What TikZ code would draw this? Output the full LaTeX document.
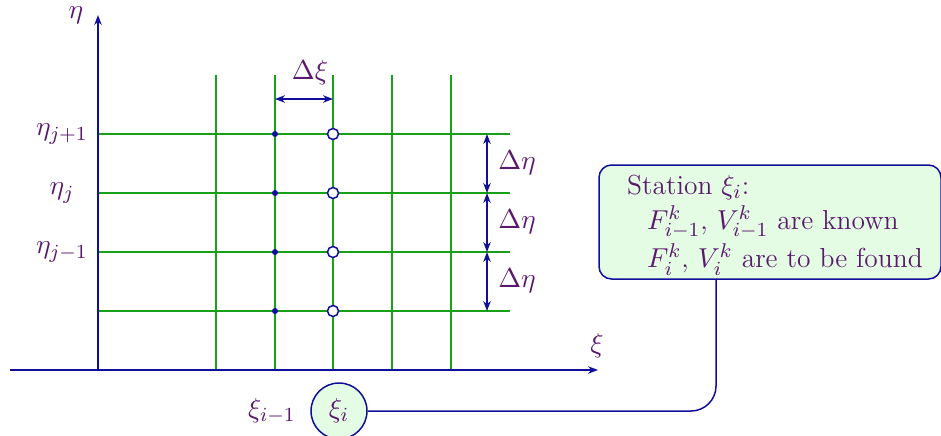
\documentclass[tikz,border=0pt]{standalone}
\usetikzlibrary{arrows.meta}
\definecolor{axblue}{RGB}{15,15,155}
\definecolor{gridgreen}{RGB}{25,160,25}
\definecolor{txt}{RGB}{90,25,110}
\definecolor{boxfill}{RGB}{228,251,228}
\tikzset{
  lbl/.style={text=txt, font=\fontsize{11pt}{13pt}\selectfont, inner sep=0pt},
  axis/.style={draw=axblue, line width=0.6pt, -{Stealth[length=4pt,width=3pt]}},
  gridline/.style={draw=gridgreen, line width=0.6pt},
  dim/.style={draw=axblue, line width=0.6pt, {Stealth[length=4pt,width=3pt]}-{Stealth[length=4pt,width=3pt]}},
  fdot/.style={circle, fill=axblue, minimum size=2.4pt, inner sep=0pt},
  odot/.style={circle, draw=axblue, fill=white, line width=0.6pt, minimum size=4.4pt, inner sep=0pt},
  callout/.style={draw=axblue, fill=boxfill, line width=0.6pt, rounded corners=5pt, text=txt,
     font=\fontsize{11pt}{13.2pt}\selectfont, align=left, minimum width=136.8pt, minimum height=45.6pt, inner sep=0pt},
  station/.style={circle, draw=axblue, fill=boxfill, line width=0.6pt, text=txt,
     font=\fontsize{11pt}{13pt}\selectfont, minimum size=22.4pt, inner sep=0pt}
}
\begin{document}
\begin{tikzpicture}[x=0.4pt,y=-0.4pt]
\useasboundingbox (0,0) rectangle (941,435);
% grid
\foreach \yy/\nm in {134/a,193/b,252/c,311/d}{
  \coordinate (hl\nm) at (98,\yy);
  \coordinate (hr\nm) at (510,\yy);
  \draw[gridline] (hl\nm) -- (hr\nm);
}
\foreach \xx/\nm in {216/a,275/b,333/c,392/d,451/e}{
  \coordinate (vt\nm) at (\xx,75);
  \coordinate (vb\nm) at (\xx,370);
  \draw[gridline] (vt\nm) -- (vb\nm);
}
% axes
\coordinate (o) at (98,370);
\coordinate (ytip) at (98,15);
\coordinate (xs) at (10,370);
\coordinate (xtip) at (598,370);
\draw[axis] (o) -- (ytip);
\draw[axis] (xs) -- (xtip);
\node[lbl] (eta) at (76,15) {$\eta$};
\node[lbl] (xi) at (597,346) {$\xi$};
% dots
\foreach \yy/\nm in {134/a,193/b,252/c,311/d}{
  \node[fdot] (f\nm) at (275,\yy) {};
  \node[odot] (o\nm) at (333,\yy) {};
}
% delta xi
\coordinate (dxl) at (275,99);
\coordinate (dxr) at (333,99);
\draw[dim] (dxl) -- (dxr);
\node[lbl] (dxi) at (310,73) {$\Delta\xi$};
% delta eta
\coordinate (e1) at (487,134);
\coordinate (e2) at (487,193);
\coordinate (e3) at (487,252);
\coordinate (e4) at (487,311);
\draw[dim] (e1) -- (e2);
\draw[dim] (e2) -- (e3);
\draw[dim] (e3) -- (e4);
\node[lbl] (de1) at (517,163) {$\Delta\eta$};
\node[lbl] (de2) at (517,222) {$\Delta\eta$};
\node[lbl] (de3) at (517,281) {$\Delta\eta$};
% eta labels
\node[lbl] (ej1) at (62,134) {$\eta_{j+1}$};
\node[lbl] (ej) at (62,193) {$\eta_j$};
\node[lbl] (ejm) at (62,252) {$\eta_{j-1}$};
% station
\node[lbl] (xim) at (272,411) {$\xi_{i-1}$};
\node[station] (xii) at (339,411) {$\xi_i$};
\node[callout] (box) at (770,222) {\hspace*{4pt}\rule{0pt}{10pt}Station $\xi_i$:\\[1pt]
 \hspace*{12pt}$F^k_{i-1}$, $V^k_{i-1}$ are known\\[1pt]
 \hspace*{12pt}$F^k_i$, $V^k_i$ are to be found};
\coordinate (tap) at (716,279);
\draw[draw=axblue, line width=0.6pt, rounded corners=10pt] (xii.east) -| (tap);
\end{tikzpicture}
\end{document}
